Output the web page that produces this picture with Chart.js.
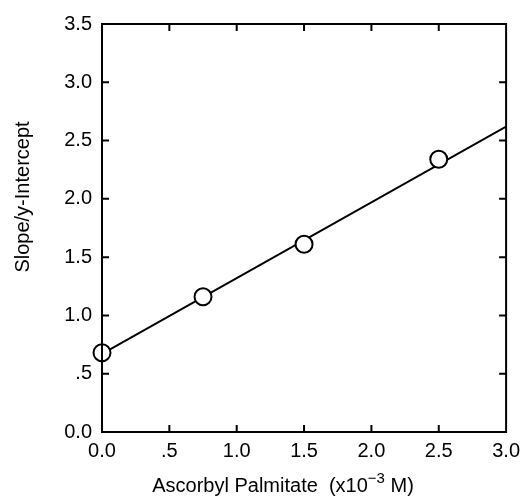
<!DOCTYPE html>
<html>
<head>
<meta charset="utf-8">
<script src="https://cdn.jsdelivr.net/npm/chart.js@4"></script>
<style>
    html, body { margin: 0; padding: 0; background: #fff; }
    #wrap { width: 527px; height: 501px; }
</style>
</head>
<body>
<div id="wrap"><canvas id="chart"></canvas></div>
<script>
// data
const concentration = [0, 0.75, 1.5, 2.5];
const slopeRatio = [0.68, 1.16, 1.61, 2.34];
const fitX = [0, 3.0];
const fitY = [0.67, 2.62];
const xTicks = [0, 0.5, 1.0, 1.5, 2.0, 2.5, 3.0];
const yTicks = [0, 0.5, 1.0, 1.5, 2.0, 2.5, 3.0, 3.5];

const FONT = 'Liberation Sans, Arial, sans-serif';

function fmt(v) {
    return v === 0.5 ? '.5' : v.toFixed(1);
}

// frame, inward ticks and axis titles
const framePlugin = {
    id: 'frame',
    afterDraw(chart) {
        const { ctx, chartArea: a, scales } = chart;
        const len = 7;
        ctx.save();
        ctx.strokeStyle = '#000';
        ctx.lineWidth = 2;
        ctx.strokeRect(a.left, a.top, a.right - a.left, a.bottom - a.top);
        ctx.beginPath();
        xTicks.slice(1, -1).forEach(v => {
            const px = scales.x.getPixelForValue(v);
            ctx.moveTo(px, a.bottom); ctx.lineTo(px, a.bottom - len);
            ctx.moveTo(px, a.top); ctx.lineTo(px, a.top + len);
        });
        yTicks.slice(1, -1).forEach(v => {
            const py = scales.y.getPixelForValue(v);
            ctx.moveTo(a.left, py); ctx.lineTo(a.left + len, py);
            ctx.moveTo(a.right, py); ctx.lineTo(a.right - len, py);
        });
        ctx.stroke();

        ctx.fillStyle = '#000';
        ctx.textBaseline = 'alphabetic';

        // x title with superscript
        const main = 'Ascorbyl Palmitate  (x10';
        const sup = '\u22123';
        const tail = ' M)';
        ctx.font = '20px ' + FONT;
        const w1 = ctx.measureText(main).width;
        const w3 = ctx.measureText(tail).width;
        ctx.font = '15px ' + FONT;
        const w2 = ctx.measureText(sup).width;
        let x = 283 - (w1 + w2 + w3) / 2;
        const base = 492;
        ctx.textAlign = 'left';
        ctx.font = '20px ' + FONT;
        ctx.fillText(main, x, base);
        x += w1;
        ctx.font = '15px ' + FONT;
        ctx.fillText(sup, x, base - 9);
        x += w2;
        ctx.font = '20px ' + FONT;
        ctx.fillText(tail, x, base);

        // y title
        ctx.translate(29, 197);
        ctx.rotate(-Math.PI / 2);
        ctx.textAlign = 'center';
        ctx.fillText('Slope/y-Intercept', 0, 0);
        ctx.restore();
    }
};

new Chart(document.getElementById('chart'), {
    type: 'scatter',
    data: {
        datasets: [
            {
                label: 'measured',
                data: concentration.map((c, i) => ({ x: c, y: slopeRatio[i] })),
                pointRadius: 8.5,
                pointBackgroundColor: '#fff',
                pointBorderColor: '#000',
                pointBorderWidth: 2,
                showLine: false,
                clip: false
            },
            {
                label: 'fit',
                data: fitX.map((c, i) => ({ x: c, y: fitY[i] })),
                showLine: true,
                borderColor: '#000',
                borderWidth: 2,
                pointRadius: 0
            }
        ]
    },
    options: {
        responsive: true,
        maintainAspectRatio: false,
        animation: false,
        layout: { padding: { top: 24, right: 19, left: 0, bottom: 0 } },
        plugins: {
            legend: { display: false },
            tooltip: { enabled: false }
        },
        scales: {
            x: {
                type: 'linear',
                min: 0,
                max: 3,
                afterBuildTicks: s => { s.ticks = xTicks.map(v => ({ value: v })); },
                afterFit: s => { s.height = 69; },
                grid: { display: false, drawTicks: false },
                border: { display: false },
                ticks: {
                    callback: v => fmt(v),
                    color: '#000',
                    padding: 7,
                    maxRotation: 0,
                    font: { family: FONT, size: 20 }
                }
            },
            y: {
                type: 'linear',
                min: 0,
                max: 3.5,
                afterBuildTicks: s => { s.ticks = yTicks.map(v => ({ value: v })); },
                afterFit: s => { s.width = 102; },
                grid: { display: false, drawTicks: false },
                border: { display: false },
                ticks: {
                    callback: v => fmt(v),
                    color: '#000',
                    padding: 10,
                    font: { family: FONT, size: 20 }
                }
            }
        }
    },
    plugins: [framePlugin]
});
</script>
</body>
</html>
